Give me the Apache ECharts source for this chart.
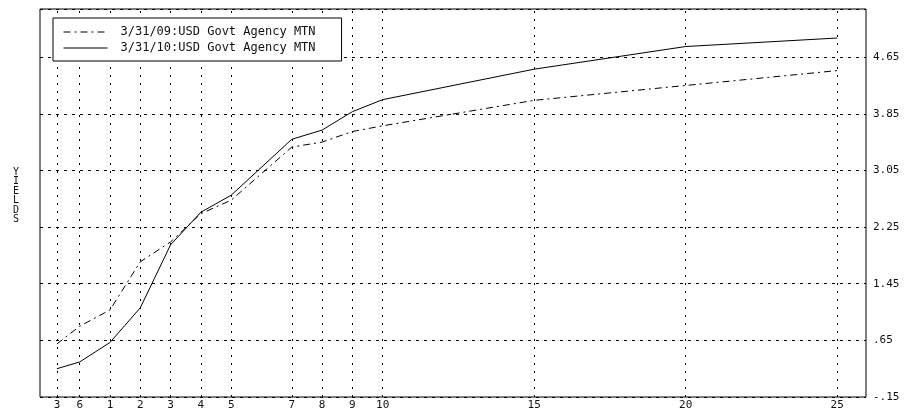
<!DOCTYPE html>
<html>
<head>
<meta charset="utf-8">
<script src="https://cdn.jsdelivr.net/npm/echarts@6/dist/echarts.min.js"></script>
<style>
html,body{margin:0;padding:0;background:#fff;}
#c{width:905px;height:411px;}
</style>
</head>
<body>
<div id="c"></div>
<script>
// Tenor labels and their positions on the horizontal axis (short end stretched, as in the reference)
var tenorLabels = ['3','6','1','2','3','4','5','7','8','9','10','15','20','25'];
var tenorPos    = [-0.75, 0, 1, 2, 3, 4, 5, 7, 8, 9, 10, 15, 20, 25];
// Yields
var yields09 = [0.60, 0.85, 1.08, 1.76, 2.04, 2.44, 2.63, 3.38, 3.45, 3.60, 3.68, 4.04, 4.25, 4.46];
var yields10 = [0.25, 0.345, 0.62, 1.11, 2.00, 2.46, 2.70, 3.49, 3.62, 3.88, 4.05, 4.48, 4.80, 4.92];
var seriesNames = ['3/31/09:USD Govt Agency MTN', '3/31/10:USD Govt Agency MTN'];
var yTickStart = -0.15, yTickStep = 0.8;

function pairs(vals){ return tenorPos.map(function(p,i){ return [p, vals[i]]; }); }
function fmtY(v){
  var s = (Math.round(v*100)/100).toFixed(2);
  return s.replace(/^(-?)0\./, '$1.');
}
var FONT = '"DejaVu Sans Mono", monospace';

var chart = echarts.init(document.getElementById('c'), null, {renderer:'canvas'});
chart.setOption({
  animation:false,
  backgroundColor:'#fff',
  grid:{left:40, right:39, top:9, bottom:13, show:true, borderColor:'#000', borderWidth:1, containLabel:false},
  xAxis:{
    type:'value', min:-1.31, max:25.95,
    axisLine:{show:false}, axisTick:{show:false}, splitLine:{show:false},
    axisLabel:{
      customValues: tenorPos,
      margin:3, color:'#111', fontSize:11, fontFamily:FONT,
      formatter:function(v){ var i = tenorPos.indexOf(v); return i>=0 ? tenorLabels[i] : ''; }
    }
  },
  yAxis:{
    type:'value', position:'right', min:yTickStart, max:5.33, interval:yTickStep,
    axisLine:{show:false}, axisTick:{show:false},
    splitLine:{show:true, lineStyle:{color:'#000', width:1, type:[3,5]}},
    axisLabel:{showMaxLabel:false, margin:7, color:'#111', fontSize:11, fontFamily:FONT, formatter:fmtY}
  },
  legend:{
    orient:'vertical', left:53, top:18, z:10,
    data:seriesNames,
    backgroundColor:'#fff', borderColor:'#000', borderWidth:1,
    padding:[8,26,7,10], itemGap:4, itemWidth:44, itemHeight:10,
    itemStyle:{opacity:0},
    lineStyle:{width:1},
    textStyle:{color:'#111', fontSize:12, fontFamily:FONT, padding:[0,0,0,8]}
  },
  graphic:[{
    type:'text', left:13, top:167,
    style:{text:'Y\nI\nE\nL\nD\nS', fill:'#111', font:'10px "DejaVu Sans Mono", monospace', lineHeight:9.5, align:'center'}
  }],
  series:[
    {
      name:seriesNames[0], type:'line', data:pairs(yields09), symbol:'none',
      lineStyle:{color:'#000', width:1, type:[7,4,2,4]},
      itemStyle:{color:'#000'},
      markLine:{
        silent:true, z:1, symbol:['none','none'], label:{show:false},
        lineStyle:{color:'#000', width:1, type:[2,6]},
        data: tenorPos.map(function(p){ return {xAxis:p}; })
      }
    },
    {
      name:seriesNames[1], type:'line', data:pairs(yields10), symbol:'none',
      lineStyle:{color:'#000', width:1, type:'solid'},
      itemStyle:{color:'#000'}
    }
  ]
});
</script>
</body>
</html>
